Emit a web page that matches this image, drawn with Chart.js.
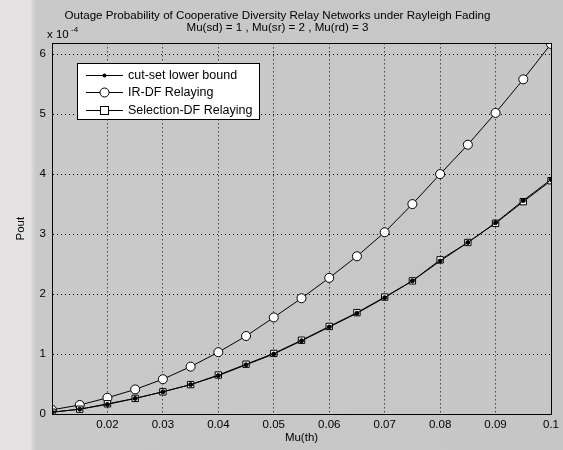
<!DOCTYPE html>
<html>
<head>
<meta charset="utf-8">
<script src="https://cdn.jsdelivr.net/npm/chart.js@4.4.0/dist/chart.umd.min.js"></script>
<style>
  html, body { margin: 0; padding: 0; }
  body {
    width: 563px; height: 450px; overflow: hidden;
    background: linear-gradient(to right, #e4e2e3 0px, #e4e2e3 30px, #c9c9c9 36px, #c6c6c6 100%);
  }
  #wrap { position: relative; width: 563px; height: 450px; }
</style>
</head>
<body>
<div id="wrap"><canvas id="chart" width="563" height="450"></canvas></div>
<script>
// Dữ liệu (Pout x 10^-4)
const muTh = [0.01, 0.015, 0.02, 0.025, 0.03, 0.035, 0.04, 0.045, 0.05, 0.055,
              0.06, 0.065, 0.07, 0.075, 0.08, 0.085, 0.09, 0.095, 0.1];
const cutSet = [0.03, 0.08, 0.16, 0.26, 0.37, 0.49, 0.64, 0.82, 1.00, 1.22,
                1.45, 1.68, 1.94, 2.22, 2.55, 2.86, 3.19, 3.56, 3.91];
const irDf = [0.07, 0.15, 0.27, 0.41, 0.58, 0.79, 1.03, 1.30, 1.61, 1.93,
              2.27, 2.63, 3.03, 3.50, 4.00, 4.49, 5.02, 5.58, 6.17];
const selDf = [0.03, 0.08, 0.17, 0.26, 0.37, 0.49, 0.65, 0.83, 1.01, 1.23,
               1.46, 1.69, 1.95, 2.22, 2.57, 2.86, 3.18, 3.54, 3.89];
const seriesNames = ['cut-set lower bound', 'IR-DF Relaying', 'Selection-DF Relaying'];
const xTicks = [0.02, 0.03, 0.04, 0.05, 0.06, 0.07, 0.08, 0.09, 0.1];
const yTicks = [0, 1, 2, 3, 4, 5, 6];
const titleLines = ['Outage Probability of Cooperative Diversity Relay Networks under Rayleigh Fading',
                    'Mu(sd) = 1 , Mu(sr) = 2 , Mu(rd) = 3'];

const FONT = 'Liberation Sans, Arial, sans-serif';
const toPts = arr => arr.map((y, i) => ({ x: muTh[i], y: y }));

// Khung hộp (box on), hệ số x 10^-4, chú thích kiểu MATLAB
const matlabBits = {
    id: 'matlabBits',
    afterDraw(chart) {
        const { ctx, chartArea: a } = chart;
        ctx.save();
        ctx.strokeStyle = '#000';
        ctx.lineWidth = 1;
        ctx.strokeRect(Math.round(a.left) + 0.5, Math.round(a.top) + 0.5,
                       Math.round(a.right - a.left), Math.round(a.bottom - a.top));

        // x 10^-4
        ctx.fillStyle = '#000';
        ctx.textBaseline = 'alphabetic';
        ctx.textAlign = 'left';
        ctx.font = '11.5px ' + FONT;
        ctx.fillText('x 10', 47, 38);
        ctx.font = '8px ' + FONT;
        ctx.fillText('-4', 71, 32);

        // legend
        const lx = 77, ly = 63, lw = 182, lh = 56;
        ctx.fillStyle = '#fff';
        ctx.fillRect(lx, ly, lw, lh);
        ctx.strokeRect(lx + 0.5, ly + 0.5, lw, lh);
        const rows = [75, 92, 110];
        chart.data.datasets.forEach((ds, i) => {
            const y = rows[i] + 0.5;
            ctx.beginPath();
            ctx.moveTo(86, y);
            ctx.lineTo(123, y);
            ctx.strokeStyle = '#000';
            ctx.lineWidth = 1;
            ctx.stroke();
            const cx = 104.5;
            ctx.beginPath();
            if (ds.pointStyle === 'rect') {
                ctx.fillStyle = '#fff';
                ctx.fillRect(cx - 4, y - 4, 8, 8);
                ctx.strokeRect(cx - 4, y - 4, 8, 8);
            } else if (ds.pointBackgroundColor === '#000') {
                ctx.arc(cx, y, 2, 0, Math.PI * 2);
                ctx.fillStyle = '#000';
                ctx.fill();
            } else {
                ctx.arc(cx, y, 4.5, 0, Math.PI * 2);
                ctx.fillStyle = '#fff';
                ctx.fill();
                ctx.stroke();
            }
            ctx.fillStyle = '#000';
            ctx.font = '12.5px ' + FONT;
            ctx.textBaseline = 'middle';
            ctx.fillText(ds.label, 128, y);
        });
        ctx.restore();
    }
};

new Chart(document.getElementById('chart'), {
    type: 'scatter',
    data: {
        datasets: [
            {
                label: seriesNames[0],
                data: toPts(cutSet),
                showLine: true,
                borderColor: '#000',
                borderWidth: 1,
                pointStyle: 'circle',
                pointRadius: 2,
                pointBackgroundColor: '#000',
                pointBorderColor: '#000',
                order: 0
            },
            {
                label: seriesNames[1],
                data: toPts(irDf),
                showLine: true,
                borderColor: '#000',
                borderWidth: 1,
                pointStyle: 'circle',
                pointRadius: 4.5,
                pointBackgroundColor: '#fff',
                pointBorderColor: '#000',
                pointBorderWidth: 1,
                order: 2
            },
            {
                label: seriesNames[2],
                data: toPts(selDf),
                showLine: true,
                borderColor: '#000',
                borderWidth: 1,
                pointStyle: 'rect',
                pointRadius: 4.5,
                pointBackgroundColor: '#fff',
                pointBorderColor: '#000',
                pointBorderWidth: 1,
                order: 1
            }
        ]
    },
    options: {
        responsive: false,
        animation: false,
        layout: { padding: { left: 0, right: 8, top: 0, bottom: 0 } },
        plugins: {
            legend: { display: false },
            tooltip: { enabled: false },
            title: {
                display: true,
                text: titleLines,
                color: '#000',
                font: { family: FONT, size: 11.6, weight: 'normal', lineHeight: 1.05 },
                padding: { top: 10, bottom: 9 }
            }
        },
        scales: {
            x: {
                type: 'linear',
                min: 0.01,
                max: 0.1,
                afterBuildTicks: s => { s.ticks = xTicks.map(v => ({ value: v })); },
                afterFit: s => { s.height = 36; },
                ticks: {
                    color: '#000',
                    font: { family: FONT, size: 11.5 },
                    padding: 4,
                    maxRotation: 0,
                    callback: v => String(v)
                },
                grid: { color: '#000', lineWidth: 1, drawTicks: false },
                border: { display: true, color: '#000', dash: [1, 3] },
                title: {
                    display: true,
                    text: 'Mu(th)',
                    color: '#000',
                    font: { family: FONT, size: 11.5 },
                    padding: { top: 0, bottom: 5 }
                }
            },
            y: {
                type: 'linear',
                min: 0,
                max: 6.18,
                afterBuildTicks: s => { s.ticks = yTicks.map(v => ({ value: v })); },
                afterFit: s => { s.width = 52; },
                ticks: {
                    color: '#000',
                    font: { family: FONT, size: 11.5 },
                    padding: 6
                },
                grid: { color: '#000', lineWidth: 1, drawTicks: false },
                border: { display: true, color: '#000', dash: [1, 3] },
                title: {
                    display: true,
                    text: 'Pout',
                    color: '#000',
                    font: { family: FONT, size: 11.5 },
                    padding: { top: 14, bottom: 0 }
                }
            }
        }
    },
    plugins: [matlabBits]
});
</script>
</body>
</html>
